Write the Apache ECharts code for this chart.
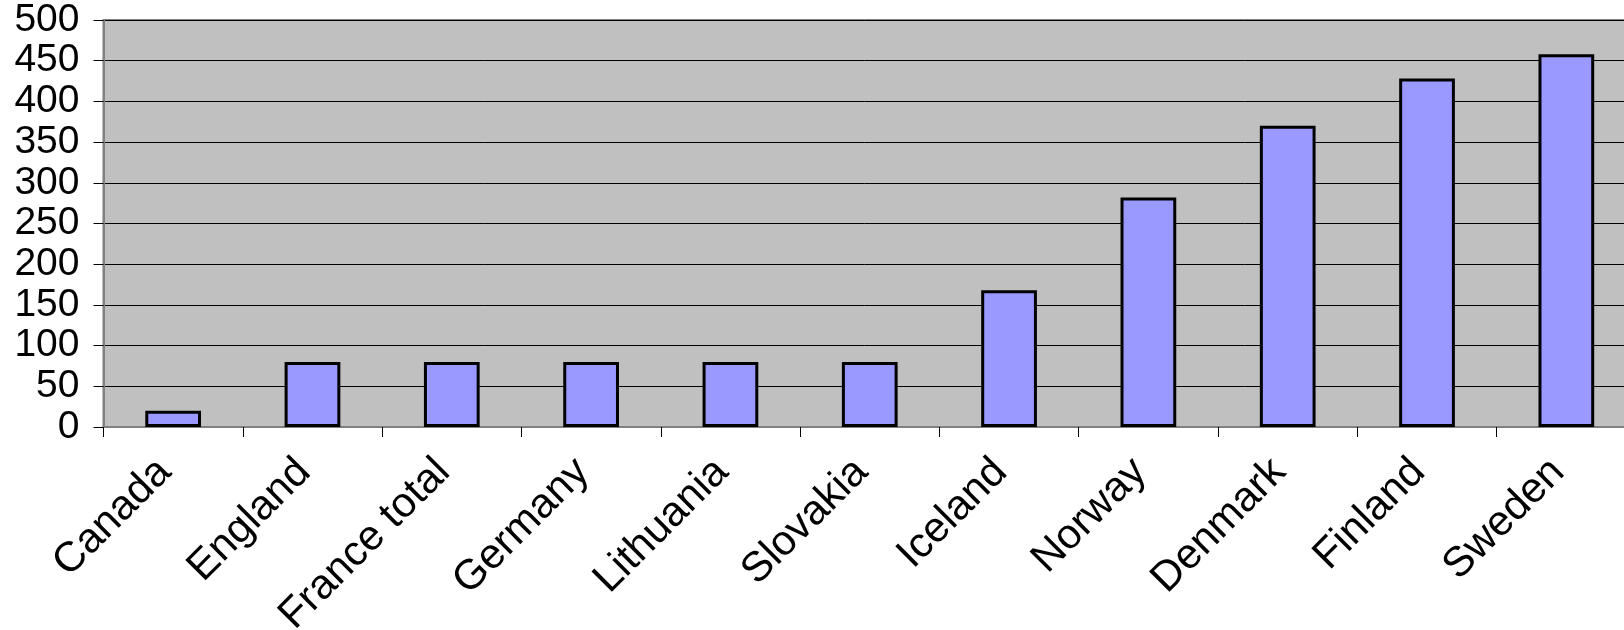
<!DOCTYPE html>
<html>
<head>
<meta charset="utf-8">
<script src="https://cdn.jsdelivr.net/npm/echarts@6/dist/echarts.min.js"></script>
<style>
  html, body { margin: 0; padding: 0; background: #fff; }
  #chart { width: 1624px; height: 630px; }
</style>
</head>
<body>
<div id="chart"></div>
<script>
// data
const countries = ['Canada', 'England', 'France total', 'Germany', 'Lithuania', 'Slovakia',
  'Iceland', 'Norway', 'Denmark', 'Finland', 'Sweden'];
const values = [20, 80, 80, 80, 80, 80, 168, 282, 370, 428, 458];
const yMin = 0;
const yMax = 500;
const yStep = 50;

const chart = echarts.init(document.getElementById('chart'));

const fontFamily = '"Liberation Sans", Arial, sans-serif';

chart.setOption({
  animation: false,
  grid: {
    left: 103.5,
    right: -12,
    top: 20,
    bottom: 203,
    outerBoundsMode: 'none',
    containLabel: false,
    show: true,
    backgroundColor: '#c0c0c0',
    borderColor: '#808080',
    borderWidth: 2
  },
  xAxis: {
    type: 'category',
    data: countries,
    axisLine: { lineStyle: { color: '#808080', width: 2 } },
    axisTick: { show: true, length: 10, lineStyle: { color: '#000', width: 1 } },
    axisLabel: {
      rotate: 45,
      margin: 30,
      interval: 0,
      padding: [0, 12, 0, 0],
      fontFamily: fontFamily,
      fontSize: 42,
      color: '#000'
    }
  },
  yAxis: {
    type: 'value',
    min: yMin,
    max: yMax,
    interval: yStep,
    axisLine: { show: true, lineStyle: { color: '#808080', width: 2 } },
    axisTick: { show: true, length: 10, lineStyle: { color: '#000', width: 1 } },
    splitLine: { show: true, lineStyle: { color: '#000', width: 1 } },
    axisLabel: {
      margin: 24,
      padding: [6, 0, 0, 0],
      fontFamily: fontFamily,
      fontSize: 39,
      color: '#000'
    }
  },
  series: [{
    type: 'bar',
    data: values,
    barWidth: '40%',
    itemStyle: {
      color: '#9999ff',
      borderColor: '#000',
      borderWidth: 3
    }
  }]
});
</script>
</body>
</html>
